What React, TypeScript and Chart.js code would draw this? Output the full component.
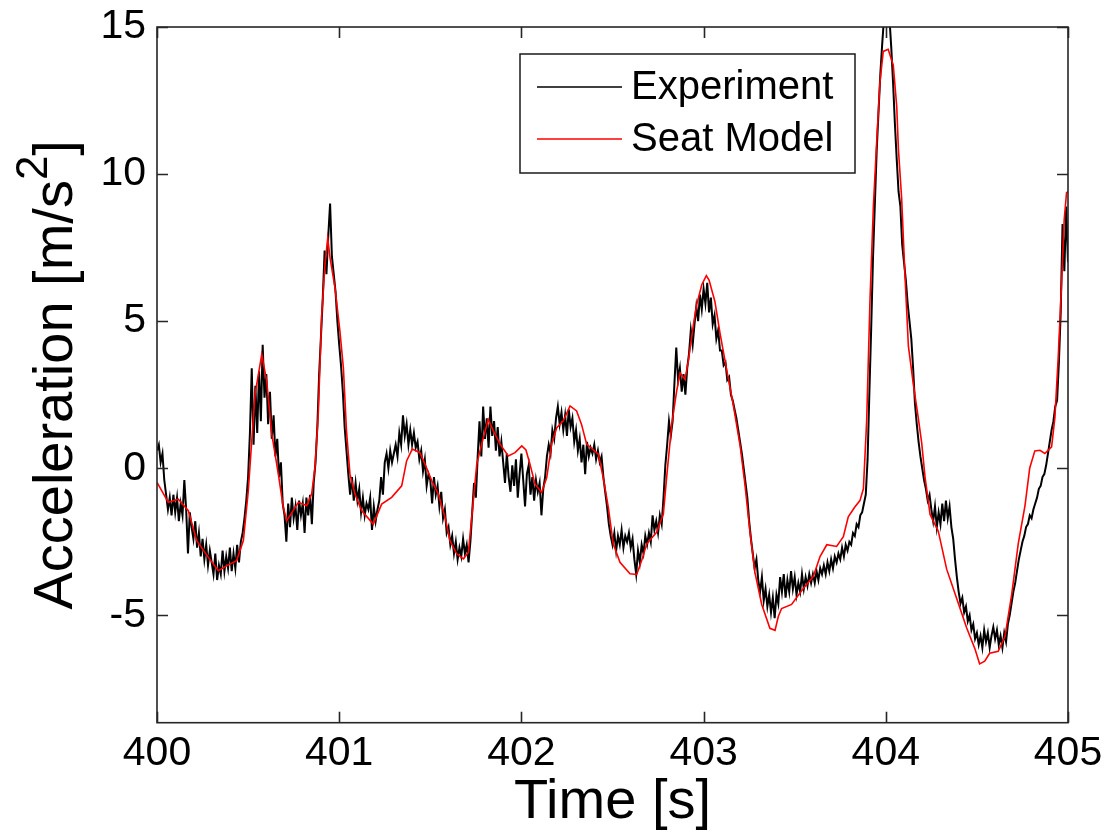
import React, { useEffect, useRef } from "react";
import { Chart, registerables } from "chart.js";

Chart.register(...registerables);

// ---------- data ----------
const expStartTime = 400;
const expSampleStep = 0.01;
const experimentAccel = [
  0.6, 0.8, 0.2, 0.5, -0.4, -0.9, -1.4, -1.0, -1.6, -0.9,
  -1.5, -1.0, -1.8, -1.2, -1.6, -0.4, -1.4, -2.9, -1.5, -2.0,
  -2.4, -1.8, -2.7, -2.2, -3.0, -2.4, -3.1, -2.6, -3.3, -2.8,
  -3.2, -3.6, -2.9, -3.8, -3.3, -3.6, -2.8, -3.5, -3.0, -3.4,
  -2.7, -3.5, -2.9, -3.4, -2.6, -3.2, -2.5, -2.2, -1.7, -1.1,
  -0.3, 1.2, 3.4, 0.8, 2.8, 1.2, 3.3, 1.6, 4.2, 2.4,
  3.2, 1.5, 2.6, 1.0, 1.8, 0.4, 1.0, -0.3, 0.2, -1.2,
  -1.6, -2.5, -1.2, -2.0, -1.0, -1.7, -1.3, -2.1, -1.1, -1.6,
  -1.2, -2.2, -1.0, -1.6, -0.9, -1.9, -0.5, 0.2, 1.4, 3.2,
  4.5, 5.8, 7.4, 6.6, 7.9, 9.0, 7.2, 6.6, 6.0, 5.0,
  4.2, 3.5, 2.6, 1.4, 0.6, -0.2, -0.9, -0.3, -1.1, -0.5,
  -1.1, -0.7, -1.5, -1.0, -1.6, -1.2, -1.4, -1.0, -2.1, -1.3,
  -1.8, -1.4, -1.1, -0.3, -0.9, 0.2, 0.5, 0.0, 0.6, 0.2,
  0.5, 0.8, 0.4, 1.2, 0.8, 1.8, 1.1, 1.5, 0.8, 1.3,
  0.8, 1.2, 0.7, 0.9, 0.3, 0.6, -0.1, 0.3, -0.6, -0.2,
  -0.4, -1.2, -0.3, -0.9, -0.6, -1.3, -0.8, -1.7, -1.4, -2.2,
  -2.0, -2.6, -2.3, -2.9, -2.5, -3.1, -2.7, -3.0, -2.4, -2.9,
  -2.6, -3.2, -2.5, -1.5, -0.5, -1.0, 0.4, 1.6, 0.4, 2.1,
  1.0, 1.7, 0.7, 2.1, 1.1, 1.6, 0.6, 1.4, 0.4, 0.9,
  0.2, -0.5, 0.5, -0.3, -0.8, 0.1, -0.6, 0.3, -1.0, -0.2,
  0.5, -0.4, -1.3, -0.2, 0.1, -0.9, -0.3, -1.1, -0.4, -0.8,
  -0.5, -1.6, -0.7, -0.3, 0.4, 0.8, 0.5, 1.3, 1.0, 1.7,
  2.1, 1.5, 1.9, 1.3, 1.8, 1.1, 2.0, 1.4, 1.7, 0.9,
  1.3, 0.6, 1.0, 0.2, 0.8, -0.2, 0.9, 0.4, 0.7, 0.5,
  0.8, 0.3, 0.6, 0.2, 0.4, -0.3, -0.8, -1.3, -1.9, -2.3,
  -2.6, -2.2, -2.8, -2.3, -2.6, -2.1, -2.7, -2.3, -2.5, -2.2,
  -2.7, -2.4, -3.1, -3.6, -2.8, -3.2, -2.6, -2.9, -2.3, -2.6,
  -2.2, -2.5, -1.6, -2.1, -1.8, -2.2, -1.6, -1.9, -1.0, 0.1,
  0.8, 1.6, 1.1, 1.6, 2.9, 4.1, 3.0, 3.4, 2.6, 3.2,
  2.5, 3.4, 3.9, 4.7, 4.2, 4.9, 5.5, 5.0, 5.9, 5.4,
  6.1, 5.6, 6.3, 5.3, 5.8, 4.9, 5.2, 4.4, 4.7, 4.0,
  4.0, 3.5, 3.6, 3.0, 3.1, 2.5, 2.3, 2.0, 1.7, 1.3,
  0.9, 0.5, 0.0, -0.5, -1.0, -1.8, -2.4, -2.9, -3.4, -3.1,
  -3.8, -4.2, -3.7, -4.5, -4.1, -4.7, -4.3, -4.9, -4.4, -5.1,
  -4.3, -4.6, -3.7, -4.2, -3.6, -4.4, -3.8, -4.2, -3.5, -4.1,
  -3.7, -4.3, -3.9, -4.2, -3.6, -4.1, -3.7, -4.0, -3.6, -3.9,
  -3.6, -3.9, -3.5, -3.8, -3.4, -3.6, -3.3, -3.6, -3.2, -3.5,
  -3.1, -3.4, -3.0, -3.2, -2.9, -3.1, -2.7, -3.0, -2.6, -2.8,
  -2.5, -2.6, -2.2, -2.3, -1.9, -2.0, -1.6, -1.5, -1.2, -0.9,
  0.3, 2.6, 4.8, 7.2, 9.0, 10.8, 12.1, 13.4, 14.4, 15.3,
  16.0, 15.8, 15.3, 14.3, 13.1, 11.7, 10.5, 9.4, 8.9, 7.6,
  7.0, 6.4, 5.6, 5.0, 4.4, 3.4, 2.2, 1.5, 0.9, 0.4,
  0.0, -0.4, -0.7, -1.1, -0.9, -1.4, -1.8, -1.3, -2.0, -1.5,
  -1.9, -1.2, -1.8, -1.1, -1.7, -1.3, -2.0, -2.4, -3.1, -3.7,
  -4.2, -4.6, -4.4, -4.9, -4.7, -5.2, -5.0, -5.5, -5.3, -5.8,
  -5.6, -6.0, -5.7, -6.1, -5.5, -5.9, -5.6, -6.1, -5.7, -5.4,
  -5.8, -5.5, -6.0, -5.7, -6.1, -5.6, -5.9, -5.3, -5.0, -4.6,
  -4.2, -3.9, -3.5, -3.1, -2.8, -2.5, -2.3, -2.0, -1.9, -1.6,
  -1.7, -1.4, -1.2, -1.0, -0.7, -0.6, -0.3, -0.2, 0.1, 0.5,
  0.9, 1.3, 1.6, 2.1, 2.3, 3.6, 5.3, 8.3, 6.7, 8.9,
  7.0,
];

const modelTime = [
  400.000, 400.062, 400.117, 400.172, 400.218, 400.282, 400.337, 400.383, 400.437, 400.474,
  400.501, 400.520, 400.538, 400.575, 400.602, 400.630, 400.666, 400.693, 400.712, 400.776,
  400.822, 400.849, 400.867, 400.885, 400.904, 400.922, 400.937, 400.950, 400.977, 401.004,
  401.023, 401.040, 401.059, 401.087, 401.123, 401.187, 401.233, 401.288, 401.343, 401.370,
  401.401, 401.443, 401.471, 401.508, 401.544, 401.581, 401.608, 401.645, 401.681, 401.709,
  401.731, 401.755, 401.782, 401.818, 401.846, 401.883, 401.928, 401.965, 402.002, 402.025,
  402.047, 402.075, 402.111, 402.139, 402.166, 402.194, 402.230, 402.267, 402.303, 402.330,
  402.358, 402.422, 402.449, 402.477, 402.504, 402.541, 402.596, 402.633, 402.660, 402.688,
  402.742, 402.779, 402.797, 402.825, 402.852, 402.871, 402.898, 402.916, 402.944, 402.962,
  402.990, 403.015, 403.030, 403.062, 403.090, 403.126, 403.163, 403.200, 403.227, 403.255,
  403.282, 403.319, 403.364, 403.392, 403.410, 403.428, 403.483, 403.547, 403.602, 403.639,
  403.676, 403.730, 403.767, 403.794, 403.831, 403.858, 403.877, 403.895, 403.913, 403.932,
  403.950, 403.968, 403.986, 404.013, 404.041, 404.060, 404.069, 404.087, 404.105, 404.124,
  404.151, 404.178, 404.197, 404.215, 404.243, 404.288, 404.334, 404.389, 404.444, 404.490,
  404.515, 404.543, 404.570, 404.617, 404.654, 404.691, 404.727, 404.764, 404.790, 404.818,
  404.846, 404.873, 404.910, 404.928, 404.946, 404.965, 404.979, 404.992, 405.000,
];
const modelAccel = [
  -0.48, -1.16, -1.05, -1.44, -2.46, -3.03, -3.48, -3.31, -3.14, -2.46,
  -0.77, 0.93, 2.51, 3.87, 2.96, 1.16, -0.20, -1.33, -1.78, -1.16,
  -1.27, -0.87, 0.02, 1.83, 5.22, 6.92, 7.82, 7.14, 6.13, 4.65,
  3.41, 1.27, -0.20, -0.88, -1.44, -1.90, -1.22, -0.99, -0.60, 0.25,
  0.65, 0.53, 0.14, -0.43, -0.88, -1.67, -2.46, -2.91, -3.08, -2.86,
  -1.44, 0.14, 0.82, 1.66, 1.27, 0.82, 0.42, 0.53, 0.76, 0.62,
  0.14, -0.54, -0.82, -0.32, 0.82, 1.38, 1.61, 2.12, 1.95, 1.49,
  0.82, 0.48, -0.32, -1.33, -2.57, -3.20, -3.59, -3.61, -3.14, -2.57,
  -2.18, -1.56, -0.32, 1.49, 2.62, 3.24, 3.02, 3.64, 4.88, 5.56,
  6.24, 6.55, 6.40, 5.67, 4.59, 3.37, 2.15, 0.79, -0.56, -2.19,
  -3.55, -4.63, -5.44, -5.51, -5.04, -4.77, -4.63, -4.09, -3.68, -3.00,
  -2.60, -2.66, -2.33, -1.65, -1.31, -1.10, -0.70, 1.61, 5.67, 8.93,
  11.10, 13.13, 14.17, 14.24, 13.70, 12.30, 10.87, 9.17, 6.59, 4.15,
  2.86, 1.72, 0.86, -0.28, -1.57, -2.14, -3.43, -4.43, -5.43, -6.15,
  -6.65, -6.56, -6.29, -6.22, -5.72, -4.29, -2.56, -1.27, 0.01, 0.59,
  0.61, 0.50, 0.73, 1.72, 3.73, 6.30, 8.44, 9.37, 9.40,
];

const xTickValues = [400, 401, 402, 403, 404, 405];
const yTickValues = [-5, 0, 5, 10, 15];
const xMin = 400;
const xMax = 405;
const yMin = -8.65;
const yMax = 15;
const seriesNames = ["Experiment", "Seat Model"];
const seriesColors = ["#000000", "#ff0000"];
const xTitle = "Time [s]";
const yTitleMain = "Acceleration [m/s";
const yTitleSup = "2";
const yTitleEnd = "]";

// ---------- layout ----------
const W = 1107;
const H = 837;
const FONT = "'Liberation Sans', Arial, Helvetica, sans-serif";
const AREA_LEFT = 157;
const AREA_TOP = 27;
const AREA_RIGHT = 1068;
const AREA_BOTTOM = 722.7;
const TICK_LEN = 11;

const decorPlugin = {
  id: "matlabDecor",
  afterDraw(chart: any) {
    const { ctx, chartArea: a, scales } = chart;
    const x = scales.x;
    const y = scales.y;
    ctx.save();
    // axes box
    ctx.strokeStyle = "#262626";
    ctx.lineWidth = 1.6;
    ctx.strokeRect(a.left, a.top, a.right - a.left, a.bottom - a.top);
    // inward ticks on all four sides
    ctx.beginPath();
    xTickValues.forEach((v) => {
      const px = Math.round(x.getPixelForValue(v)) + 0.5;
      ctx.moveTo(px, a.bottom);
      ctx.lineTo(px, a.bottom - TICK_LEN);
      ctx.moveTo(px, a.top);
      ctx.lineTo(px, a.top + TICK_LEN);
    });
    yTickValues.forEach((v) => {
      const py = Math.round(y.getPixelForValue(v)) + 0.5;
      ctx.moveTo(a.left, py);
      ctx.lineTo(a.left + TICK_LEN, py);
      ctx.moveTo(a.right, py);
      ctx.lineTo(a.right - TICK_LEN, py);
    });
    ctx.stroke();

    // x axis title
    ctx.fillStyle = "#000";
    ctx.font = `56px ${FONT}`;
    ctx.textAlign = "center";
    ctx.textBaseline = "alphabetic";
    ctx.fillText(xTitle, (a.left + a.right) / 2, 818);

    // y axis title with superscript
    const mainFont = `56px ${FONT}`;
    const supFont = `44px ${FONT}`;
    ctx.font = mainFont;
    const w1 = ctx.measureText(yTitleMain).width;
    const w3 = ctx.measureText(yTitleEnd).width;
    ctx.font = supFont;
    const w2 = ctx.measureText(yTitleSup).width;
    const total = w1 + w2 + w3;
    ctx.save();
    ctx.translate(72, (a.top + a.bottom) / 2);
    ctx.rotate(-Math.PI / 2);
    ctx.textAlign = "left";
    ctx.textBaseline = "alphabetic";
    let cx = -total / 2;
    ctx.font = mainFont;
    ctx.fillText(yTitleMain, cx, 0);
    cx += w1;
    ctx.font = supFont;
    ctx.fillText(yTitleSup, cx, -25);
    cx += w2;
    ctx.font = mainFont;
    ctx.fillText(yTitleEnd, cx, 0);
    ctx.restore();

    // legend
    const lx = 520, ly = 54, lw = 335, lh = 119;
    ctx.fillStyle = "#ffffff";
    ctx.fillRect(lx, ly, lw, lh);
    ctx.strokeStyle = "#1a1a1a";
    ctx.lineWidth = 1.5;
    ctx.strokeRect(lx, ly, lw, lh);
    const rowY = [87, 139];
    ctx.font = `40px ${FONT}`;
    ctx.textAlign = "left";
    ctx.textBaseline = "middle";
    seriesNames.forEach((name, i) => {
      ctx.strokeStyle = seriesColors[i];
      ctx.lineWidth = 1.5;
      ctx.beginPath();
      ctx.moveTo(537, rowY[i]);
      ctx.lineTo(622, rowY[i]);
      ctx.stroke();
      ctx.fillStyle = "#000";
      ctx.fillText(name, 631, rowY[i] + 1);
    });
    ctx.restore();
  },
};

export default function App() {
  const canvasRef = useRef<HTMLCanvasElement | null>(null);

  useEffect(() => {
    const canvas = canvasRef.current;
    if (!canvas) return;
    const expData = experimentAccel.map((v, i) => ({
      x: expStartTime + i * expSampleStep,
      y: v,
    }));
    const modelData = modelTime.map((t, i) => ({ x: t, y: modelAccel[i] }));

    const chart = new Chart(canvas, {
      type: "line",
      data: {
        datasets: [
          {
            label: seriesNames[0],
            data: expData,
            borderColor: seriesColors[0],
            borderWidth: 2,
            pointRadius: 0,
            tension: 0,
            fill: false,
            order: 2,
          },
          {
            label: seriesNames[1],
            data: modelData,
            borderColor: seriesColors[1],
            borderWidth: 1.6,
            pointRadius: 0,
            tension: 0,
            fill: false,
            order: 1,
          },
        ],
      },
      options: {
        animation: false,
        responsive: false,
        devicePixelRatio: 1,
        parsing: false,
        normalized: true,
        layout: {
          padding: { top: AREA_TOP, right: W - AREA_RIGHT, left: 0, bottom: 0 },
        },
        plugins: {
          legend: { display: false },
          tooltip: { enabled: false },
          title: { display: false },
        },
        scales: {
          x: {
            type: "linear",
            min: xMin,
            max: xMax,
            grid: { display: false, drawTicks: false },
            border: { display: false },
            afterBuildTicks: (s: any) => {
              s.ticks = xTickValues.map((v) => ({ value: v }));
            },
            afterFit: (s: any) => {
              s.height = H - AREA_BOTTOM;
              s.paddingLeft = 0;
              s.paddingRight = 0;
              s.paddingTop = 0;
              s.paddingBottom = 0;
            },
            ticks: {
              color: "#000",
              padding: 6,
              maxRotation: 0,
              autoSkip: false,
              font: { family: FONT, size: 41 },
              callback: (v: any) => String(v),
            },
          },
          y: {
            type: "linear",
            min: yMin,
            max: yMax,
            grid: { display: false, drawTicks: false },
            border: { display: false },
            afterBuildTicks: (s: any) => {
              s.ticks = yTickValues.map((v) => ({ value: v }));
            },
            afterFit: (s: any) => {
              s.width = AREA_LEFT;
              s.paddingLeft = 0;
              s.paddingRight = 0;
              s.paddingTop = 0;
              s.paddingBottom = 0;
            },
            ticks: {
              color: "#000",
              padding: 11,
              autoSkip: false,
              font: { family: FONT, size: 41 },
              callback: (v: any) => String(v),
            },
          },
        },
      },
      plugins: [decorPlugin],
    });
    return () => chart.destroy();
  }, []);

  return (
    <div style={{ position: "absolute", left: 0, top: 0, width: W, height: H, background: "#fff" }}>
      <canvas ref={canvasRef} width={W} height={H} style={{ display: "block" }} />
    </div>
  );
}
